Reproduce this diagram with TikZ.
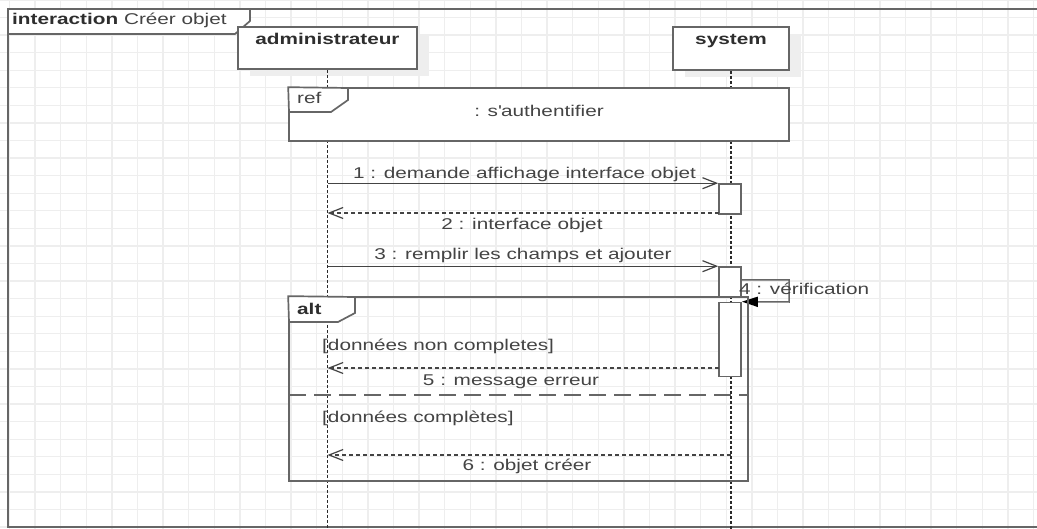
\documentclass[tikz,border=0pt]{standalone}
\usepackage{fontspec}
\setmainfont{Liberation Sans}[FakeStretch=1.33]
\usetikzlibrary{arrows.meta}

\definecolor{gridc}{HTML}{EEEEEE}
\definecolor{edge}{HTML}{666666}
\definecolor{ink}{HTML}{444444}
\definecolor{dark}{HTML}{2E2E2E}
\definecolor{life}{HTML}{2A2A2A}
\definecolor{shade}{HTML}{EEEEEE}

\begin{document}
\begin{tikzpicture}[x=1pt,y=-1pt,
  every node/.style={font=\fontsize{15.6pt}{18pt}\selectfont, text=ink, inner sep=0pt},
  lbl/.style={anchor=base},
  lbllft/.style={anchor=base west},
  strong/.style={font=\fontsize{15.6pt}{18pt}\selectfont\bfseries, text=dark},
  gridline/.style={draw=gridc, line width=1.3pt},
  framebox/.style={draw=edge, line width=1.7pt},
  headbox/.style={draw=edge, line width=1.6pt, fill=white, rectangle},
  shadowbox/.style={fill=shade, draw=none, rectangle},
  lifeline/.style={draw=life, line width=1.4pt, dash pattern=on 3pt off 2pt},
  actbox/.style={draw=edge, line width=1.6pt, fill=white, rectangle, minimum width=22pt},
  call/.style={draw=ink, line width=1.2pt, -{Straight Barb[length=14pt,width=11pt]}},
  reply/.style={draw=ink, line width=1.2pt, dash pattern=on 4pt off 3pt, -{Straight Barb[length=14pt,width=11pt]}},
  selfcall/.style={draw=edge, line width=1.5pt, -{Triangle[length=16pt,width=10pt,color=black]}},
  separator/.style={draw=edge, line width=1.5pt, dash pattern=on 17pt off 8pt},
]
\useasboundingbox (0,0) rectangle (1037,529);
\clip (0,0) rectangle (1037,529);
\fill[white] (0,0) rectangle (1037,529);

% background grid
\foreach \i in {0,...,40} \draw[gridline] ({9.5+25.6*\i},0) -- ({9.5+25.6*\i},529);
\foreach \j in {-1,...,30} \draw[gridline] (0,{17.5+17.57*\j}) -- (1037,{17.5+17.57*\j});

% interaction frame and its tab
\draw[framebox] (1045,9) -- (8,9) -- (8,527) -- (1045,527);
\draw[framebox, fill=white] (8,9) -- (250,9) -- (250,21) -- (235,34) -- (8,34) -- cycle;
\node[lbllft] (title) at (12,25) {\textbf{\color{dark}interaction} Créer objet};

% lifeline heads
\node[shadowbox, minimum width=179pt, minimum height=42pt] (adminshadow) at (339.5,55) {};
\node[shadowbox, minimum width=116pt, minimum height=43pt] (sysshadow) at (743,55.5) {};
\node[headbox, minimum width=179pt, minimum height=42pt] (admin) at (327.5,48) {};
\node[headbox, minimum width=116pt, minimum height=43pt] (sys) at (731,48.5) {};
\node[lbl, strong] (adminlbl) at (327.5,45) {administrateur};
\node[lbl, strong] (syslbl) at (731,45) {system};

% lifelines
\coordinate (adminend) at (327.5,531);
\coordinate (sysend) at (731,531);
\draw[lifeline] (admin.south) -- (adminend);
\draw[lifeline] (sys.south) -- (sysend);

% interaction use: s'authentifier
\node[headbox, minimum width=500pt, minimum height=53pt] (ref) at (539,114.5) {};
\draw[framebox, fill=white] (ref.north west) -- (348,88) -- (348,100) -- (331,112) -- (289,112) -- cycle;
\node[lbllft] (reflbl) at (297,104) {ref};
\node[lbl] (refname) at (539,117) {: s\textquotesingle authentifier};

% activations on the system lifeline
\node[actbox, minimum height=30pt] (a1) at (730,199) {};
\node[actbox, minimum height=30pt] (a2) at (730,282) {};
\node[actbox, minimum height=74pt] (a3) at (730,339.5) {};

% messages 1 to 3
\draw[call] (admin.south |- a1.north) -- (a1.north west);
\node[lbl] (l1) at (524.5,178.3) {1 : demande affichage interface objet};
\coordinate (m2) at (719,213);
\draw[reply] (m2) -- (admin.south |- m2);
\node[lbl] (l2) at (522,229.3) {2 : interface objet};
\draw[call] (admin.south |- a2.north) -- (a2.north west);
\node[lbl] (l3) at (523,260) {3 : remplir les champs et ajouter};

% self message 4
\coordinate (s1) at (789,280);
\coordinate (s2) at (789,302);
\draw[selfcall] ([yshift=2pt]a2.east) -- (s1) -- (s2) -- (a3.north east);
\node[lbllft] (l4) at (739,295) {4 : vérification};

% combined fragment alt
\node[framebox, rectangle, minimum width=459pt, minimum height=184pt] (alt) at (518.5,389) {};
\draw[framebox, fill=white] (alt.north west) -- (355,297) -- (355,313) -- (338,322) -- (289,322) -- cycle;
\node[lbllft, strong] (altlbl) at (297,315) {alt};
\coordinate (sepl) at (289,395);
\coordinate (sepr) at (748,395);
\draw[separator] (sepl) -- (sepr);
\node[lbllft] (g1) at (322,351) {[données non completes]};
\node[lbllft] (g2) at (322,423) {[données complètes]};

% replies 5 and 6
\coordinate (m5) at (719,368);
\draw[reply] (m5) -- (admin.south |- m5);
\node[lbl] (l5) at (511,386) {5 : message erreur};
\coordinate (m6) at (731,455);
\draw[reply] (m6) -- (admin.south |- m6);
\node[lbl] (l6) at (527,470) {6 : objet créer};
\end{tikzpicture}
\end{document}
